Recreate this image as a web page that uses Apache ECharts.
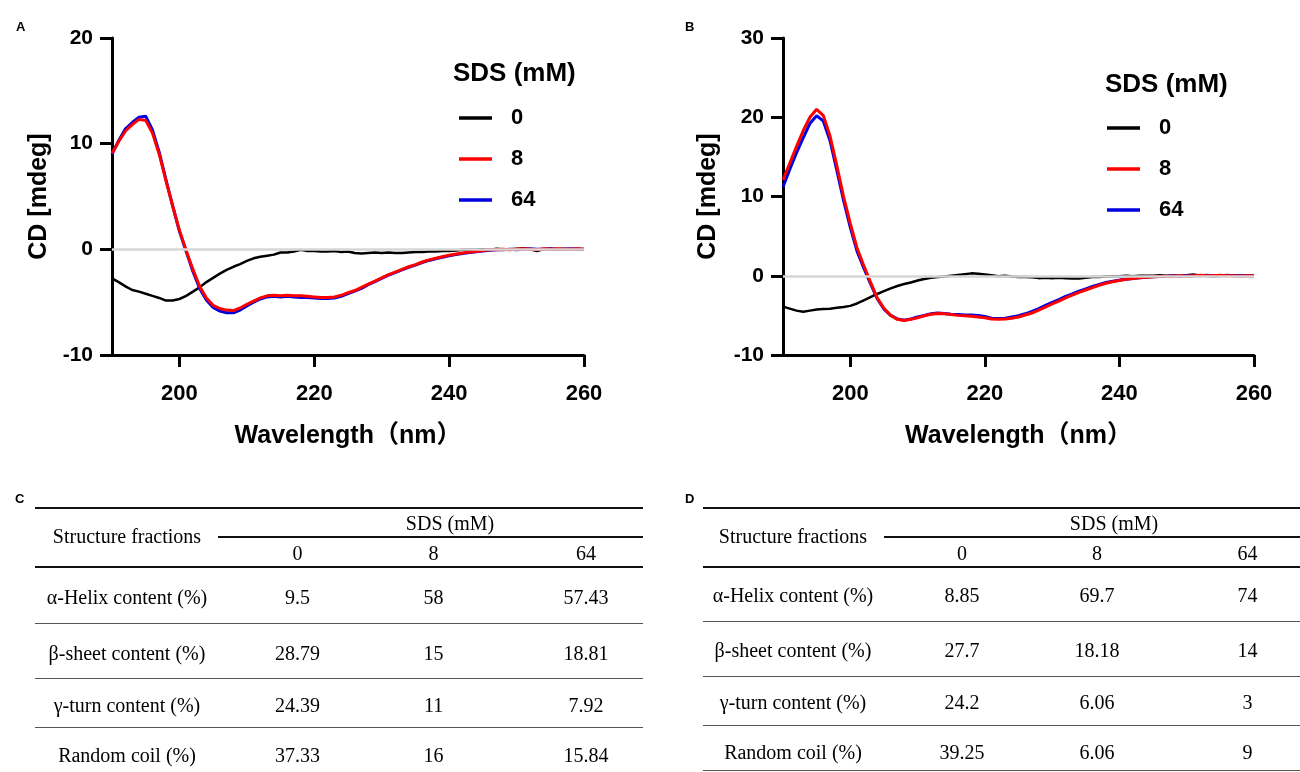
<!DOCTYPE html>
<html>
<head>
<meta charset="utf-8">
<script src="https://cdn.jsdelivr.net/npm/echarts@6/dist/echarts.min.js"></script>
<style>
  html, body { margin: 0; padding: 0; background: #fff; }
  #wrap { position: relative; width: 1300px; height: 772px; overflow: hidden; background: #fff; }
  #chart { position: absolute; left: 0; top: 0; width: 1300px; height: 772px; }
  .t { position: absolute; transform: translate(-50%, -50%); white-space: nowrap; line-height: 1;
       font-family: "Liberation Serif", "Times New Roman", serif; font-size: 20px; color: #000; }
  .ln { position: absolute; height: 0; }
  .lbl { position: absolute; font-family: "Liberation Sans", Arial, sans-serif; font-weight: bold; font-size: 13px; color: #000; line-height: 1; }
</style>
</head>
<body>
<div id="wrap">
  <div id="chart"></div>
</div>
<script>
// ---------- data ----------
const wavelength = [190,191,192,193,194,195,196,197,198,199,200,201,202,203,204,205,206,207,208,209,
  210,211,212,213,214,215,216,217,218,219,220,221,222,223,224,225,226,227,228,229,
  230,231,232,233,234,235,236,237,238,239,240,241,242,243,244,245,246,247,248,249,
  250,251,252,253,254,255,256,257,258,259,260];

const seriesNames = ['0', '8', '64'];

// Panel A
const cdA_0 = [-2.75,-3.1,-3.5,-3.85,-4.0,-4.2,-4.4,-4.6,-4.85,-4.85,-4.7,-4.4,-4.0,-3.6,-3.1,-2.7,-2.3,-1.95,-1.65,-1.4,
  -1.1,-0.85,-0.7,-0.6,-0.5,-0.3,-0.3,-0.2,-0.05,-0.15,-0.15,-0.2,-0.2,-0.15,-0.25,-0.2,-0.35,-0.4,-0.35,-0.3,
  -0.35,-0.3,-0.35,-0.35,-0.3,-0.25,-0.25,-0.2,-0.2,-0.15,-0.15,-0.1,-0.05,-0.05,-0.05,0,-0.05,0.05,0,0,
  0.05,0.1,0,-0.15,0,0.05,0,0.05,0,0.05,0];
const cdA_8 = [9.1,10.2,11.2,11.8,12.3,12.2,11.0,9.0,6.5,4.1,1.8,-0.1,-1.9,-3.5,-4.6,-5.3,-5.6,-5.75,-5.8,-5.55,
  -5.2,-4.9,-4.6,-4.4,-4.35,-4.4,-4.35,-4.4,-4.4,-4.45,-4.5,-4.55,-4.55,-4.5,-4.35,-4.1,-3.9,-3.6,-3.3,-3.0,
  -2.7,-2.4,-2.15,-1.9,-1.65,-1.45,-1.2,-1.0,-0.85,-0.7,-0.55,-0.45,-0.35,-0.25,-0.2,-0.12,-0.05,-0.05,0,-0.05,
  0,0.05,0,-0.05,0.05,0,0.05,0,0,0.05,0];
const cdA_64 = [9.0,10.3,11.4,12.0,12.5,12.6,11.3,9.2,6.6,4.1,1.7,-0.2,-2.1,-3.7,-4.8,-5.5,-5.85,-6.0,-6.0,-5.75,
  -5.35,-5.0,-4.7,-4.5,-4.45,-4.5,-4.45,-4.5,-4.55,-4.55,-4.6,-4.65,-4.65,-4.6,-4.45,-4.2,-3.95,-3.7,-3.35,-3.05,
  -2.75,-2.45,-2.2,-1.95,-1.7,-1.5,-1.25,-1.05,-0.9,-0.75,-0.6,-0.5,-0.4,-0.3,-0.22,-0.15,-0.08,-0.05,-0.05,0,
  -0.05,0,0.05,0,0,0.05,0,0,0.05,0,0];

// Panel B
const cdB_0 = [-3.9,-4.15,-4.4,-4.55,-4.4,-4.25,-4.2,-4.15,-4.05,-3.95,-3.8,-3.5,-3.1,-2.7,-2.3,-1.95,-1.6,-1.3,-1.05,-0.85,
  -0.6,-0.4,-0.25,-0.15,-0.1,0,0.1,0.2,0.3,0.25,0.15,0.05,-0.05,0,-0.1,-0.15,-0.15,-0.2,-0.3,-0.25,
  -0.3,-0.25,-0.3,-0.35,-0.35,-0.25,-0.15,-0.15,-0.1,-0.05,-0.05,0,-0.05,0,0,0,0.05,0,0,0,
  0.05,0.15,0,0,-0.05,0,0,0.05,0,0,0];
const cdB_8 = [12.1,14.2,16.3,18.3,20.0,21.0,20.2,17.6,13.9,10.0,6.6,3.5,1.3,-0.8,-2.8,-4.1,-5.0,-5.5,-5.65,-5.5,
  -5.3,-5.05,-4.85,-4.75,-4.8,-4.9,-5.0,-5.05,-5.1,-5.2,-5.3,-5.45,-5.5,-5.45,-5.35,-5.2,-4.95,-4.7,-4.35,-3.95,
  -3.55,-3.2,-2.8,-2.45,-2.1,-1.8,-1.5,-1.2,-0.95,-0.75,-0.6,-0.45,-0.35,-0.25,-0.18,-0.12,-0.08,-0.05,-0.05,0,
  -0.05,0,0.05,0,0,0.05,0,0,-0.05,0,0];
const cdB_64 = [11.2,13.4,15.5,17.4,19.2,20.2,19.5,17.0,13.3,9.5,6.1,3.1,1.0,-1.0,-2.9,-4.2,-5.0,-5.45,-5.6,-5.45,
  -5.2,-5.0,-4.8,-4.7,-4.75,-4.85,-4.9,-4.95,-4.95,-5.0,-5.15,-5.35,-5.4,-5.35,-5.2,-5.05,-4.8,-4.5,-4.15,-3.75,
  -3.35,-3.0,-2.6,-2.3,-1.95,-1.65,-1.35,-1.1,-0.85,-0.7,-0.55,-0.45,-0.35,-0.25,-0.18,-0.12,-0.08,-0.05,0,-0.05,
  0,0,0,0.05,0,0,0.05,0,0,0,0];

const xTicks = [200, 220, 240, 260];

// Tables
const tableRowLabels = ['α-Helix content (%)', 'β-sheet content (%)', 'γ-turn content (%)', 'Random coil (%)'];
const tableColLabels = ['0', '8', '64'];
const tableC = [['9.5','58','57.43'], ['28.79','15','18.81'], ['24.39','11','7.92'], ['37.33','16','15.84']];
const tableD = [['8.85','69.7','74'], ['27.7','18.18','14'], ['24.2','6.06','3'], ['39.25','6.06','9']];

// ---------- chart ----------
const FONT = '"Liberation Sans", Arial, "Noto Sans CJK SC", sans-serif';
const colors = {'0': '#000000', '8': '#ff0000', '64': '#0000e0'};

function xAxisCfg(gi) {
  return {
    gridIndex: gi, type: 'value', min: 190, max: 260,
    name: 'Wavelength（nm）', nameLocation: 'middle', nameGap: 69,
    nameTextStyle: { fontFamily: FONT, fontWeight: 'bold', fontSize: 25, color: '#000' },
    axisLine: { onZero: false, lineStyle: { color: '#000', width: 3 } },
    axisTick: { show: true, length: 12, lineStyle: { color: '#000', width: 3 }, customValues: xTicks },
    axisLabel: { fontFamily: FONT, fontWeight: 'bold', fontSize: 22, color: '#000', margin: 28, customValues: xTicks },
    splitLine: { show: false }
  };
}
function yAxisCfg(gi, max, gap) {
  return {
    gridIndex: gi, type: 'value', min: -10, max: max, interval: 10,
    name: 'CD [mdeg]', nameLocation: 'middle', nameGap: gap,
    nameTextStyle: { fontFamily: FONT, fontWeight: 'bold', fontSize: 25, color: '#000' },
    axisLine: { onZero: false, lineStyle: { color: '#000', width: 3 } },
    axisTick: { show: true, length: 12, lineStyle: { color: '#000', width: 3 } },
    axisLabel: { fontFamily: FONT, fontWeight: 'bold', fontSize: 21, color: '#000', margin: 19 },
    splitLine: { show: false }
  };
}
function pairs(ys) { return wavelength.map((w, i) => [w, ys[i]]); }
function lineSeries(name, ys, gi, width, z) {
  return {
    name: name, type: 'line', xAxisIndex: gi, yAxisIndex: gi, data: pairs(ys),
    showSymbol: false, symbol: 'none', smooth: false, z: z, silent: true,
    lineStyle: { color: colors[name], width: width }, itemStyle: { color: colors[name] }
  };
}
function zeroSeries(gi) {
  return {
    name: 'zero' + gi, type: 'line', xAxisIndex: gi, yAxisIndex: gi, data: [], z: 1, silent: true,
    markLine: { silent: true, symbol: 'none', label: { show: false },
      lineStyle: { color: '#d6d6d6', width: 2.5, type: 'solid' }, data: [{ yAxis: 0 }] }
  };
}
function legendCfg(left, top) {
  return {
    data: seriesNames, orient: 'vertical', left: left, top: top, icon: 'rect',
    itemWidth: 33, itemHeight: 3.5, itemGap: 17, selectedMode: false, padding: 0,
    textStyle: { fontFamily: FONT, fontWeight: 'bold', fontSize: 22, color: '#000', lineHeight: 24, padding: [0, 0, 0, 14] }
  };
}

const chart = echarts.init(document.getElementById('chart'), null, { renderer: 'canvas' });
chart.setOption({
  animation: false,
  backgroundColor: 'transparent',
  title: [
    { text: 'SDS (mM)', left: 453, top: 61, padding: 0, textStyle: { fontFamily: FONT, fontWeight: 'bold', fontSize: 26, color: '#000' } },
    { text: 'SDS (mM)', left: 1105, top: 72, padding: 0, textStyle: { fontFamily: FONT, fontWeight: 'bold', fontSize: 26, color: '#000' } }
  ],
  legend: [legendCfg(459, 106), legendCfg(1107, 116)],
  grid: [
    { left: 112, top: 38, width: 472, height: 317, containLabel: false },
    { left: 783, top: 38, width: 471, height: 317, containLabel: false }
  ],
  xAxis: [xAxisCfg(0), xAxisCfg(1)],
  yAxis: [yAxisCfg(0, 20, 60), yAxisCfg(1, 30, 62)],
  series: [
    zeroSeries(0),
    lineSeries('0', cdA_0, 0, 2.5, 2),
    lineSeries('64', cdA_64, 0, 3, 3),
    lineSeries('8', cdA_8, 0, 3, 4),
    zeroSeries(1),
    lineSeries('0', cdB_0, 1, 2.5, 2),
    lineSeries('64', cdB_64, 1, 3, 3),
    lineSeries('8', cdB_8, 1, 3, 4)
  ],
  graphic: [
    { type: 'text', left: 16, top: 21, style: { text: 'A', font: 'bold 13px ' + FONT, fill: '#000' } },
    { type: 'text', left: 685, top: 21, style: { text: 'B', font: 'bold 13px ' + FONT, fill: '#000' } }
  ]
});

// ---------- tables (HTML) ----------
const wrap = document.getElementById('wrap');
function addText(txt, x, y, extra) {
  const d = document.createElement('div');
  d.className = 't'; d.textContent = txt;
  d.style.left = x + 'px'; d.style.top = y + 'px';
  if (extra) Object.assign(d.style, extra);
  wrap.appendChild(d);
}
function addLine(x1, x2, y, w, color) {
  const d = document.createElement('div');
  d.className = 'ln';
  d.style.left = x1 + 'px'; d.style.width = (x2 - x1) + 'px';
  d.style.top = (y - w / 2) + 'px';
  d.style.borderTop = w + 'px solid ' + color;
  wrap.appendChild(d);
}
function addLabel(txt, x, y) {
  const d = document.createElement('div');
  d.className = 'lbl'; d.textContent = txt;
  d.style.left = x + 'px'; d.style.top = y + 'px';
  wrap.appendChild(d);
}
function buildTable(cfg, values) {
  addLine(cfg.x1, cfg.x2, 508, 2, '#111');
  addText('Structure fractions', cfg.labelX, 536);
  addText('SDS (mM)', cfg.sdsX, 523);
  addLine(cfg.subX, cfg.x2, 537, 2, '#111');
  tableColLabels.forEach((c, j) => addText(c, cfg.cols[j], 553));
  addLine(cfg.x1, cfg.x2, 567, 2.5, '#111');
  tableRowLabels.forEach((r, i) => {
    addText(r, cfg.labelX, cfg.rowY[i]);
    values[i].forEach((v, j) => addText(v, cfg.cols[j], cfg.rowY[i]));
  });
  cfg.sepY.forEach(y => addLine(cfg.x1, cfg.x2, y, 1.5, '#555'));
}
buildTable({ x1: 35, x2: 643, subX: 218, labelX: 127, sdsX: 450, cols: [297.5, 433.6, 586],
             rowY: [597, 653, 705, 755], sepY: [624, 679, 728] }, tableC);
buildTable({ x1: 703, x2: 1300, subX: 884, labelX: 793, sdsX: 1114, cols: [962, 1097, 1247.5],
             rowY: [595, 650, 702, 752], sepY: [622, 677, 726, 771] }, tableD);
addLabel('C', 15, 492);
addLabel('D', 685, 492);
</script>
</body>
</html>
